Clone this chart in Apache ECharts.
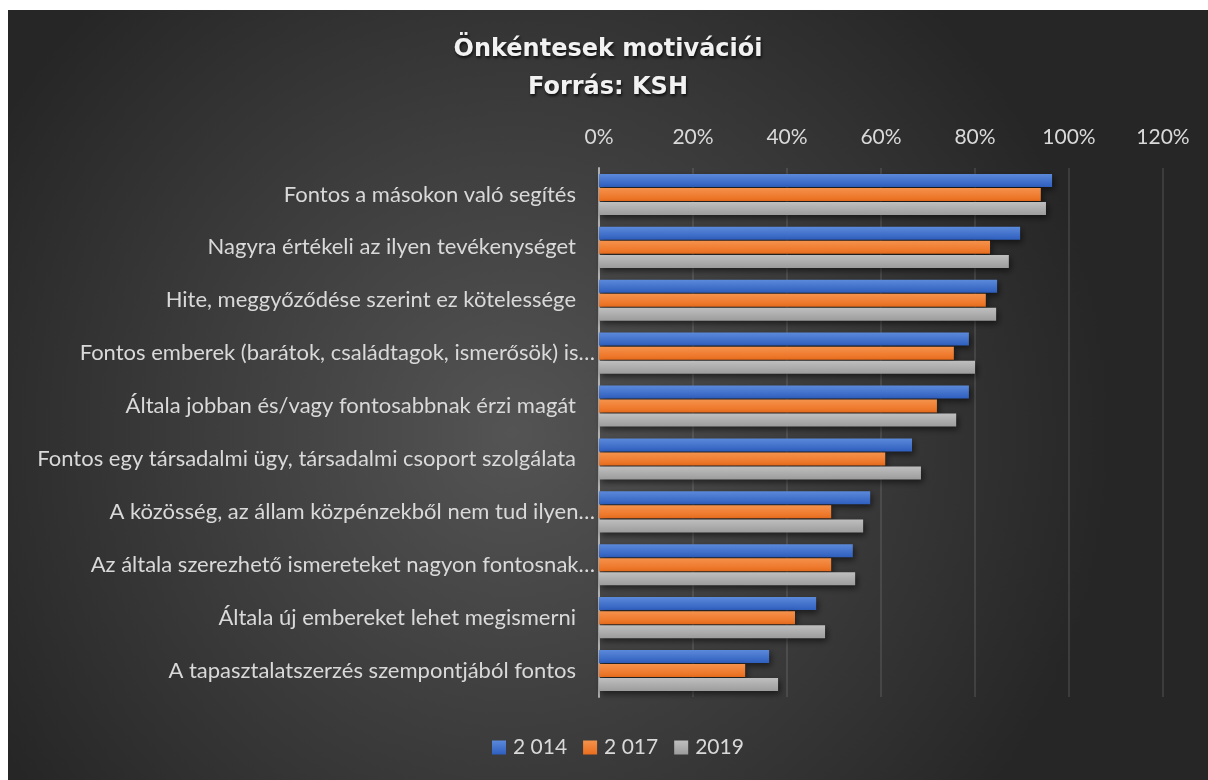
<!DOCTYPE html>
<html>
<head>
<meta charset="utf-8">
<script src="https://cdn.jsdelivr.net/npm/echarts@6/dist/echarts.min.js"></script>
<style>
html,body{margin:0;padding:0;background:#ffffff;width:1208px;height:780px;overflow:hidden;}
#c{position:absolute;left:8px;top:10px;width:1200px;height:770px;}
</style>
</head>
<body>
<div id="c"></div>
<script>
var categories = [
  "Fontos a másokon való segítés",
  "Nagyra értékeli az ilyen tevékenységet",
  "Hite, meggyőződése szerint ez kötelessége",
  "Fontos emberek (barátok, családtagok, ismerősök) is…",
  "Általa jobban és/vagy fontosabbnak érzi magát",
  "Fontos egy társadalmi ügy, társadalmi csoport szolgálata",
  "A közösség, az állam közpénzekből nem tud ilyen…",
  "Az általa szerezhető ismereteket nagyon fontosnak…",
  "Általa új embereket lehet megismerni",
  "A tapasztalatszerzés szempontjából fontos"
];
var seriesNames = ["2 014", "2 017", "2019"];
var values2014 = [96.4, 89.6, 84.7, 78.7, 78.7, 66.6, 57.7, 54.0, 46.2, 36.2];
var values2017 = [94.0, 83.2, 82.3, 75.5, 71.9, 60.9, 49.4, 49.4, 41.7, 31.1];
var values2019 = [95.1, 87.2, 84.5, 80.0, 76.0, 68.5, 56.2, 54.5, 48.1, 38.1];
var xTicks = { min: 0, max: 120, interval: 20 };
var titleLines = ["Önkéntesek motivációi", "Forrás: KSH"];

function grad(top, bottom) {
  return new echarts.graphic.LinearGradient(0, 0, 0, 1, [
    { offset: 0, color: top }, { offset: 1, color: bottom }
  ]);
}
var colors = [grad('#5b89da', '#2f5fbf'), grad('#f5924c', '#eb6e1e'), grad('#bfbfbf', '#9c9c9c')];
var allValues = [values2014, values2017, values2019];

var chart = echarts.init(document.getElementById('c'), null, { renderer: 'canvas' });
var font = 'Lato';
chart.setOption({
  backgroundColor: {
    type: 'radial', x: 0.42, y: 0.55, r: 0.78,
    colorStops: [{ offset: 0, color: '#545454' }, { offset: 1, color: '#262626' }]
  },
  animation: false,
  title: {
    text: titleLines.join('\n'),
    left: 'center',
    top: 16,
    textStyle: {
      fontFamily: 'DejaVu Sans', fontWeight: 'bold', fontSize: 24, color: '#f2f2f2',
      lineHeight: 38,
      textShadowColor: 'rgba(0,0,0,0.75)', textShadowBlur: 3, textShadowOffsetX: 1, textShadowOffsetY: 2
    }
  },
  legend: {
    bottom: 17,
    left: 479,
    itemWidth: 14, itemHeight: 14, itemGap: 16,
    icon: 'rect',
    textStyle: { fontFamily: font, fontSize: 21, color: '#d9d9d9', padding: [0, 0, 0, 2] },
    data: seriesNames
  },
  grid: { left: 591, right: 45, top: 158, bottom: 83, containLabel: false },
  xAxis: {
    type: 'value', position: 'top',
    min: xTicks.min, max: xTicks.max, interval: xTicks.interval,
    axisLine: { show: false }, axisTick: { show: false },
    axisLabel: { formatter: '{value}%', color: '#d9d9d9', fontFamily: font, fontSize: 21, margin: 20 },
    splitLine: { show: true, lineStyle: { color: 'rgba(255,255,255,0.1)', width: 2 } }
  },
  yAxis: {
    type: 'category', inverse: true, data: categories,
    axisLine: { show: true, lineStyle: { color: 'rgba(217,217,217,0.7)', width: 2 } },
    axisTick: { show: false },
    axisLabel: {
      color: '#d9d9d9', fontFamily: font, fontSize: 22, margin: 4,
      formatter: function (v) { return v.slice(-1) === '…' ? v : '{p|' + v + '}'; },
      rich: { p: { padding: [0, 19, 0, 0], color: '#d9d9d9', fontFamily: font, fontSize: 22 } }
    }
  },
  series: seriesNames.map(function (n, i) {
    return {
      name: n, type: 'bar', data: allValues[i],
      barWidth: 13, barGap: '8%',
      itemStyle: {
        color: colors[i],
        shadowColor: 'rgba(0,0,0,0.55)', shadowBlur: 6, shadowOffsetX: 2, shadowOffsetY: 3
      }
    };
  })
});
</script>
</body>
</html>
